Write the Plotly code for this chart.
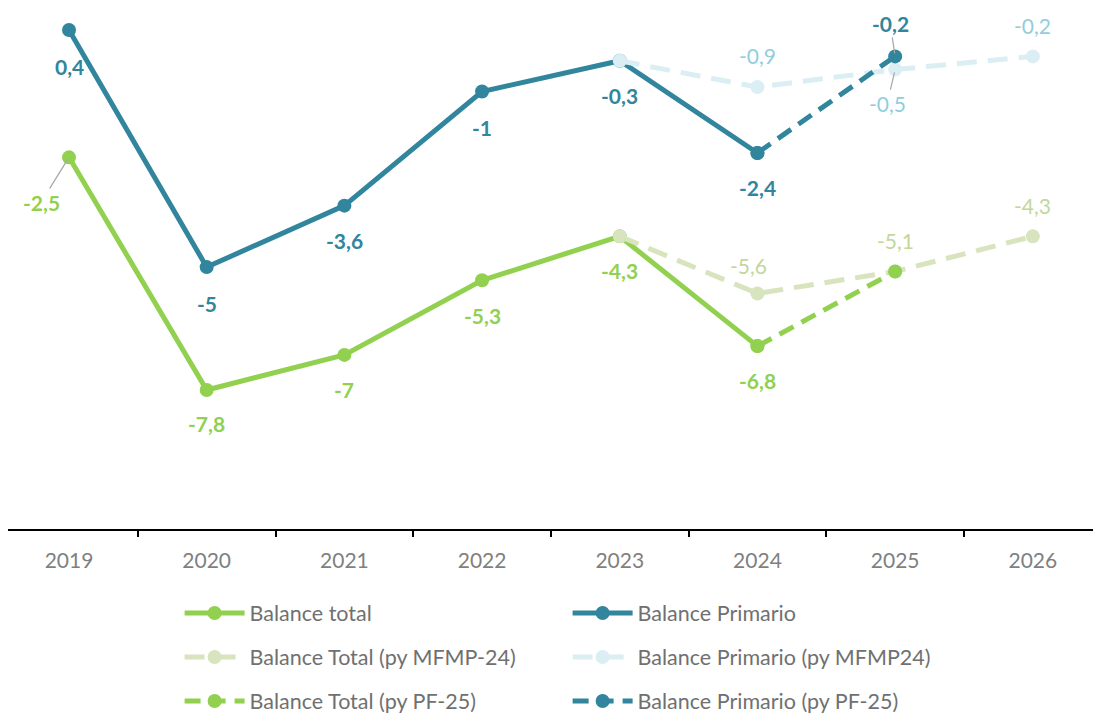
import plotly.graph_objects as go

years = ["2019", "2020", "2021", "2022", "2023", "2024", "2025", "2026"]
balance_total = [-2.5, -7.8, -7.0, -5.3, -4.3, -6.8, None, None]
balance_primario = [0.4, -5.0, -3.6, -1.0, -0.3, -2.4, None, None]
total_mfmp24 = [None, None, None, None, -4.3, -5.6, -5.1, -4.3]
primario_mfmp24 = [None, None, None, None, -0.3, -0.9, -0.5, -0.2]
total_pf25 = [None, None, None, None, None, -6.8, -5.1, None]
primario_pf25 = [None, None, None, None, None, -2.4, -0.2, None]

GREEN = "#92D050"
TEAL = "#31859C"
LGREEN = "#D7E4BD"
LBLUE = "#DAEEF3"
LGREEN_TXT = "#C3D69B"
LBLUE_TXT = "#92CDDC"
FONT = "Lato"

# label placement: index -> (xshift, yshift, arrow)
label_specs = [
    (balance_total, GREEN, True, {0: (-28, -45, True), 1: (0, -33, False), 2: (0, -35, False),
                                  3: (0, -35, False), 4: (0, -34, False), 5: (0, -34, False)}),
    (balance_primario, TEAL, True, {0: (0, -36, False), 1: (0, -36, False), 2: (0, -35, False),
                                    3: (0, -36, False), 4: (0, -35, False), 5: (0, -35, False)}),
    (total_mfmp24, LGREEN_TXT, False, {5: (-9, 28, False), 6: (0, 31, False), 7: (0, 31, False)}),
    (primario_mfmp24, LBLUE_TXT, False, {5: (0, 32, False), 6: (-8, -34, True), 7: (0, 31, False)}),
    (primario_pf25, TEAL, True, {6: (-5, 33, True)}),
]

fig = go.Figure()

def add(name, y, color, dash, legend, rank):
    fig.add_trace(go.Scatter(
        x=years, y=y, name=name, mode="lines+markers",
        line=dict(color=color, width=5, dash=dash),
        marker=dict(color=color, size=14, line=dict(width=0)),
        connectgaps=False, cliponaxis=False, legend=legend,
        legendgroup=name, legendrank=rank, hoverinfo="skip"))

add("Balance total", balance_total, GREEN, "solid", "legend", 1)
add("Balance Primario", balance_primario, TEAL, "solid", "legend2", 1)
add("Balance Total (py MFMP-24)", total_mfmp24, LGREEN, "20px,11px", "legend", 2)
add("Balance Primario (py MFMP24)", primario_mfmp24, LBLUE, "20px,11px", "legend2", 2)
add("Balance Total (py PF-25)", total_pf25, GREEN, "16px,9px", "legend", 3)
add("Balance Primario (py PF-25)", primario_pf25, TEAL, "16px,9px", "legend2", 3)

def fmt(v):
    return f"{v:g}".replace(".", ",")

annotations = []
for series, color, bold, spec in label_specs:
    for i, (dx, dy, arrow) in spec.items():
        v = series[i]
        txt = f"<b>{fmt(v)}</b>" if bold else fmt(v)
        font = dict(family=FONT, size=21, color=color)
        if arrow:
            annotations.append(dict(xref="x", yref="y", x=i, y=v, text=txt, showarrow=True,
                                    ax=dx, ay=-dy, arrowhead=0, arrowwidth=1.2,
                                    arrowcolor="#A6A6A6", standoff=3, font=font))
        else:
            annotations.append(dict(xref="x", yref="y", x=i, y=v, text=txt, showarrow=False,
                                    xshift=dx, yshift=dy, font=font))

legend_common = dict(orientation="v", yanchor="top", xanchor="left",
                     font=dict(family=FONT, size=21.5, color="#707070"),
                     traceorder="grouped", tracegroupgap=13, itemwidth=60,
                     bgcolor="rgba(0,0,0,0)")

fig.update_layout(
    width=1093, height=713,
    margin=dict(l=0, r=0, t=0, b=192, autoexpand=False),
    paper_bgcolor="white", plot_bgcolor="white",
    showlegend=True,
    legend=dict(x=0.157, y=-0.122, **legend_common),
    legend2=dict(x=0.512, y=-0.122, **legend_common),
    xaxis=dict(type="category", range=[-0.443, 7.495], showgrid=False, automargin=False,
               showline=True, linecolor="#000000", linewidth=1.5,
               ticks="outside", tickson="boundaries", ticklen=6, tickcolor="#000000",
               tickwidth=1.5, ticklabelstandoff=12,
               tickfont=dict(family=FONT, size=21, color="#7F7F7F"), zeroline=False),
    yaxis=dict(range=[-10.966, 0.902], visible=False, showgrid=False, zeroline=False,
               automargin=False),
)
fig.update_layout(annotations=annotations)

fig.write_html("out.html")
